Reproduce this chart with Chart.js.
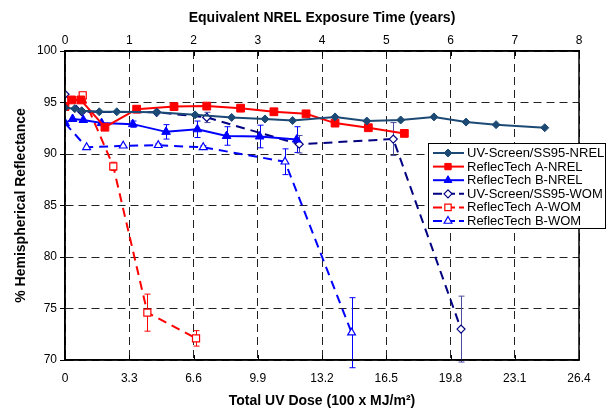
<!DOCTYPE html>
<html><head><meta charset="utf-8">
<script src="https://cdn.jsdelivr.net/npm/chart.js@4/dist/chart.umd.min.js"></script>
<style>html,body{margin:0;padding:0;background:#fff}#wrap{width:607px;height:410px;position:relative}</style>
</head><body><div id="wrap"><canvas id="c" width="607" height="410"></canvas></div>
<script>
// ---- tick labels ----
const xTickValues = [0, 3.3, 6.6, 9.9, 13.2, 16.5, 19.8, 23.1, 26.4];
const xTickLabels = ['0', '3.3', '6.6', '9.9', '13.2', '16.5', '19.8', '23.1', '26.4'];
const yearTickValues = [0, 1, 2, 3, 4, 5, 6, 7, 8];
const yTickValues = [70, 75, 80, 85, 90, 95, 100];

// ---- series ----
const seriesNames = ['UV-Screen/SS95-NREL', 'ReflecTech A-NREL', 'ReflecTech B-NREL',
                     'UV-Screen/SS95-WOM', 'ReflecTech A-WOM', 'ReflecTech B-WOM'];

const uvNrelX = [0, 0.5, 0.86, 1.76, 2.66, 4.71, 6.68, 8.56, 10.27, 11.69, 13.87, 15.5, 17.24, 18.95, 20.6, 22.14, 24.64];
const uvNrelY = [94.5, 94.4, 94.2, 94.1, 94.1, 94.05, 93.8, 93.55, 93.4, 93.25, 93.6, 93.2, 93.3, 93.6, 93.1, 92.85, 92.55];

const aNrelX = [0, 0.34, 0.81, 2.05, 3.68, 5.6, 7.28, 9.02, 10.73, 12.38, 13.87, 15.58, 17.43];
const aNrelY = [94.6, 95.25, 95.25, 92.6, 94.35, 94.6, 94.65, 94.45, 94.1, 93.9, 93.0, 92.55, 92.0];

const bNrelX = [0, 0.39, 0.94, 1.88, 3.48, 5.19, 6.8, 8.3, 10.0, 11.9];
const bNrelY = [93.0, 93.4, 93.3, 93.0, 92.9, 92.15, 92.4, 91.75, 91.7, 91.4];
const bNrelErr = [null, null, null, null, 0.3, 0.7, 0.8, 0.9, 1.1, 1.25];

const uvWomX = [0, 0.86, 4.71, 7.28, 12.03, 16.86, 20.34];
const uvWomY = [95.8, 94.1, 94.05, 93.55, 90.95, 91.45, 73.0];
const uvWomErr = [null, null, null, 0.5, 0.85, 1.6, 3.2];

const aWomX = [0.91, 2.48, 4.23, 6.73];
const aWomY = [95.7, 88.8, 74.6, 72.1];
const aWomErr = [0.3, 0.4, 1.8, 0.75];

const bWomX = [0, 1.11, 2.99, 4.79, 7.1, 11.3, 14.72];
const bWomY = [93.0, 90.65, 90.8, 90.85, 90.65, 89.25, 72.65];
const bWomErr = [null, null, null, 0.15, 0.15, 1.25, 3.4];

function pts(xs, ys) { return xs.map((x, i) => ({x: x, y: ys[i]})); }

const C_UV = '#1C4A74', C_RED = '#FF0000', C_BLUE = '#0000FF', C_NAVY = '#000080';

const datasets = [
  {label: seriesNames[0], data: pts(uvNrelX, uvNrelY), borderColor: C_UV, backgroundColor: C_UV,
   pointStyle: 'rectRot', pointRadius: 4, pointBorderWidth: 1, borderWidth: 2},
  {label: seriesNames[1], data: pts(aNrelX, aNrelY), borderColor: C_RED, backgroundColor: C_RED,
   pointStyle: 'rect', pointRadius: 5.5, pointBorderWidth: 1, borderWidth: 2},
  {label: seriesNames[2], data: pts(bNrelX, bNrelY), borderColor: C_BLUE, backgroundColor: C_BLUE,
   pointStyle: 'triangle', pointRadius: 5, pointBorderWidth: 1, borderWidth: 2, err: bNrelErr, errColor: C_BLUE},
  {label: seriesNames[3], data: pts(uvWomX, uvWomY), borderColor: C_NAVY, backgroundColor: '#FFFFFF',
   pointStyle: 'rectRot', pointRadius: 4, pointBorderWidth: 1.2, borderWidth: 2, borderDash: [9, 6], err: uvWomErr, errColor: '#4B4BA0'},
  {label: seriesNames[4], data: pts(aWomX, aWomY), borderColor: C_RED, backgroundColor: '#FFFFFF',
   pointStyle: 'rect', pointRadius: 5, pointBorderWidth: 1.2, borderWidth: 2, borderDash: [9, 6], err: aWomErr, errColor: C_RED},
  {label: seriesNames[5], data: pts(bWomX, bWomY), borderColor: C_BLUE, backgroundColor: '#FFFFFF',
   pointStyle: 'triangle', pointRadius: 4.5, pointBorderWidth: 1.2, borderWidth: 2, borderDash: [9, 6], err: bWomErr, errColor: C_BLUE}
];
datasets.forEach(d => { d.showLine = true; d.tension = 0; d.pointBorderColor = d.borderColor; d.pointBackgroundColor = d.backgroundColor; d.pointHoverRadius = d.pointRadius; });

const FONT = "'Liberation Sans', Arial, sans-serif";

const errorBars = {
  id: 'errorBars',
  beforeDatasetsDraw(chart) {
    const ctx = chart.ctx, xs = chart.scales.x, ys = chart.scales.y;
    chart.data.datasets.forEach(ds => {
      if (!ds.err) return;
      ctx.save();
      ctx.strokeStyle = ds.errColor; ctx.lineWidth = 1; ctx.setLineDash([]);
      ds.data.forEach((p, i) => {
        const e = ds.err[i];
        if (e == null) return;
        const px = Math.round(xs.getPixelForValue(p.x)) + 0.5;
        const y1 = ys.getPixelForValue(p.y + e), y2 = ys.getPixelForValue(p.y - e);
        ctx.beginPath();
        ctx.moveTo(px, y1); ctx.lineTo(px, y2);
        ctx.moveTo(px - 3, y1); ctx.lineTo(px + 3, y1);
        ctx.moveTo(px - 3, y2); ctx.lineTo(px + 3, y2);
        ctx.stroke();
      });
      ctx.restore();
    });
  }
};

function marker(ctx, style, r, x, y, fill, stroke, bw) {
  ctx.beginPath();
  if (style === 'rect') { const s = r * Math.SQRT1_2; ctx.rect(x - s, y - s, 2 * s, 2 * s); }
  else if (style === 'rectRot') { ctx.moveTo(x - r, y); ctx.lineTo(x, y - r); ctx.lineTo(x + r, y); ctx.lineTo(x, y + r); ctx.closePath(); }
  else if (style === 'triangle') {
    const h = r * Math.sin(Math.PI / 3);
    ctx.moveTo(x, y - r);
    ctx.lineTo(x + h, y + r * 0.5);
    ctx.lineTo(x - h, y + r * 0.5);
    ctx.closePath();
  }
  ctx.fillStyle = fill; ctx.fill();
  ctx.lineWidth = bw; ctx.strokeStyle = stroke; ctx.setLineDash([]); ctx.stroke();
}

const frameAndLegend = {
  id: 'frameAndLegend',
  afterDraw(chart) {
    const ctx = chart.ctx, a = chart.chartArea;
    ctx.save();
    ctx.strokeStyle = '#000'; ctx.lineWidth = 1.5; ctx.setLineDash([]);
    ctx.strokeRect(a.left, a.top, a.right - a.left, a.bottom - a.top);
    // inside tick marks on top and bottom axes
    ctx.lineWidth = 1;
    chart.scales.x.ticks.forEach(t => {
      const px = Math.round(chart.scales.x.getPixelForValue(t.value)) + 0.5;
      ctx.beginPath(); ctx.moveTo(px, a.bottom); ctx.lineTo(px, a.bottom - 5); ctx.stroke();
    });
    chart.scales.x2.ticks.forEach(t => {
      const px = Math.round(chart.scales.x2.getPixelForValue(t.value)) + 0.5;
      ctx.beginPath(); ctx.moveTo(px, a.top); ctx.lineTo(px, a.top + 5); ctx.stroke();
    });
    // legend
    const lx = 428, ly = 143, lw = 177, lh = 85;
    ctx.fillStyle = '#fff'; ctx.fillRect(lx, ly, lw, lh);
    ctx.lineWidth = 1; ctx.strokeStyle = '#000';
    ctx.strokeRect(lx + 0.5, ly + 0.5, lw, lh);
    ctx.font = '13px ' + FONT; ctx.textBaseline = 'middle'; ctx.textAlign = 'left';
    chart.data.datasets.forEach((ds, i) => {
      const y = ly + 10 + i * 13.6;
      ctx.beginPath(); ctx.strokeStyle = ds.borderColor; ctx.lineWidth = 2;
      ctx.setLineDash(ds.borderDash ? [9, 4] : []);
      ctx.moveTo(lx + 5, y); ctx.lineTo(lx + 36, y); ctx.stroke();
      ctx.setLineDash([]);
      marker(ctx, ds.pointStyle, Math.min(ds.pointRadius, 4.5), lx + 20, y, ds.backgroundColor, ds.borderColor, ds.pointBorderWidth);
      ctx.fillStyle = '#000';
      ctx.fillText(ds.label, lx + 39, y + 0.5);
    });
    ctx.restore();
  }
};

new Chart(document.getElementById('c'), {
  type: 'scatter',
  data: {datasets: datasets},
  options: {
    responsive: false, animation: false, devicePixelRatio: 1,
    layout: {padding: {left: 0, right: 28, top: 0, bottom: 0}},
    plugins: {legend: {display: false}, tooltip: {enabled: false}},
    scales: {
      x: {
        type: 'linear', position: 'bottom', min: 0, max: 26.4,
        afterBuildTicks: s => { s.ticks = xTickValues.map(v => ({value: v})); },
        afterFit: s => { s.height = 50; },
        ticks: {callback: (v, i) => xTickLabels[i], color: '#000', font: {family: FONT, size: 12}, padding: 11, maxRotation: 0, autoSkip: false},
        grid: {color: '#222', lineWidth: 1, drawTicks: false},
        border: {display: true, color: '#000', width: 1.5, dash: [8, 5]},
        title: {display: true, text: 'Total UV Dose (100 x MJ/m²)', color: '#000', font: {family: FONT, size: 14, weight: 'bold'}, padding: {top: 0, bottom: 0}}
      },
      x2: {
        type: 'linear', position: 'top', min: 0, max: 8,
        afterBuildTicks: s => { s.ticks = yearTickValues.map(v => ({value: v})); },
        afterFit: s => { s.height = 51; },
        ticks: {color: '#000', font: {family: FONT, size: 12}, padding: 3, maxRotation: 0, autoSkip: false},
        grid: {display: true, drawOnChartArea: false, drawTicks: false},
        border: {display: true, color: '#000', width: 1.5},
        title: {display: true, text: 'Equivalent NREL Exposure Time (years)', color: '#000', font: {family: FONT, size: 14, weight: 'bold'}, padding: {top: 10, bottom: 0}}
      },
      y: {
        type: 'linear', min: 70, max: 100,
        afterBuildTicks: s => { s.ticks = yTickValues.map(v => ({value: v})); },
        afterFit: s => { s.width = 65; },
        ticks: {color: '#000', font: {family: FONT, size: 12}, padding: 3, autoSkip: false},
        grid: {color: '#222', lineWidth: 1, drawTicks: true, tickLength: 5, tickColor: '#000', tickBorderDash: []},
        border: {display: true, color: '#000', width: 1.5, dash: [8, 5]},
        title: {display: true, text: '% Hemispherical Reflectance', color: '#000', font: {family: FONT, size: 14, weight: 'bold'}, padding: {top: 13, bottom: 0}}
      }
    }
  },
  plugins: [errorBars, frameAndLegend]
});
</script>
</body></html>
